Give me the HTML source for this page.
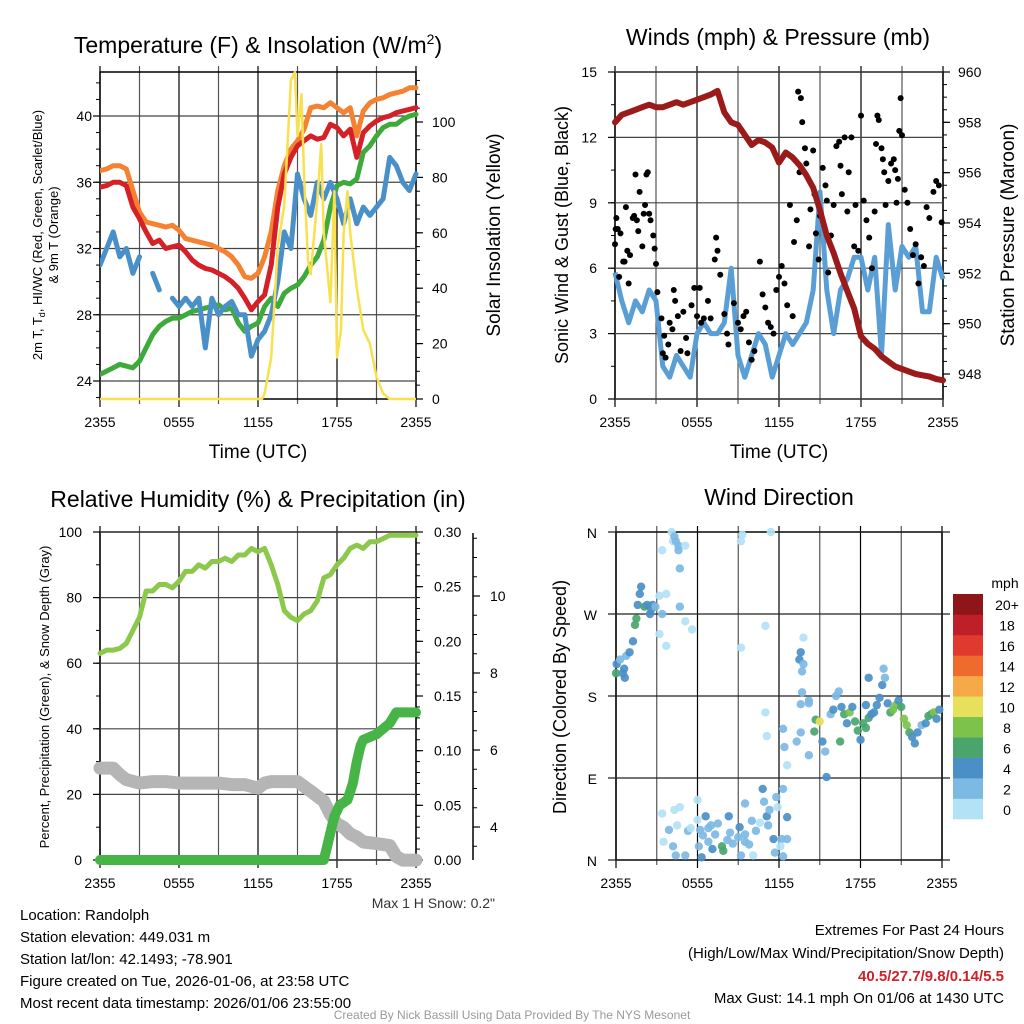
<!DOCTYPE html>
<html><head><meta charset="utf-8">
<style>
html,body{margin:0;padding:0;background:#fff;}
svg{display:block;font-family:"Liberation Sans",sans-serif;}
</style></head>
<body>
<svg id="c" width="1024" height="1024" viewBox="0 0 1024 1024">
<g id="static">
<text x="258" y="53" font-size="23" text-anchor="middle">Temperature (F) &amp; Insolation (W/m<tspan dy="-9" font-size="14">2</tspan><tspan dy="9">)</tspan></text>
<text x="778" y="45" font-size="23" text-anchor="middle">Winds (mph) &amp; Pressure (mb)</text>
<text x="258" y="507" font-size="23" text-anchor="middle">Relative Humidity (%) &amp; Precipitation (in)</text>
<text x="779" y="505" font-size="23" text-anchor="middle">Wind Direction</text>
<text x="258" y="458" font-size="19" text-anchor="middle">Time (UTC)</text>
<text x="779" y="458" font-size="19" text-anchor="middle">Time (UTC)</text>
<text transform="translate(42,235) rotate(-90)" font-size="13" text-anchor="middle">2m T, T<tspan dy="3" font-size="9">d</tspan><tspan dy="-3">, HI/WC (Red, Green, Scarlet/Blue)</tspan></text>
<text transform="translate(58,235) rotate(-90)" font-size="13" text-anchor="middle">&amp; 9m T (Orange)</text>
<text transform="translate(500,235) rotate(-90)" font-size="19" text-anchor="middle">Solar Insolation (Yellow)</text>
<text transform="translate(568,235) rotate(-90)" font-size="18" text-anchor="middle">Sonic Wind &amp; Gust (Blue, Black)</text>
<text transform="translate(1014,235) rotate(-90)" font-size="19" text-anchor="middle">Station Pressure (Maroon)</text>
<text transform="translate(49,697) rotate(-90)" font-size="13" text-anchor="middle">Percent, Precipitation (Green), &amp; Snow Depth (Gray)</text>
<text transform="translate(566,697) rotate(-90)" font-size="18" text-anchor="middle">Direction (Colored By Speed)</text>
<text x="495" y="908" font-size="14" fill="#333" text-anchor="end">Max 1 H Snow: 0.2"</text>
<g font-size="15">
<text x="20" y="920">Location: Randolph</text>
<text x="20" y="942">Station elevation: 449.031 m</text>
<text x="20" y="964">Station lat/lon: 42.1493; -78.901</text>
<text x="20" y="986">Figure created on Tue, 2026-01-06, at 23:58 UTC</text>
<text x="20" y="1008">Most recent data timestamp: 2026/01/06 23:55:00</text>
</g>
<g font-size="15" text-anchor="end">
<text x="1004" y="935">Extremes For Past 24 Hours</text>
<text x="1004" y="958">(High/Low/Max Wind/Precipitation/Snow Depth)</text>
<text x="1004" y="981" font-weight="bold" fill="#d0202a">40.5/27.7/9.8/0.14/5.5</text>
<text x="1004" y="1003">Max Gust: 14.1 mph On 01/06 at 1430 UTC</text>
</g>
<text x="512" y="1019" font-size="12" fill="#999" text-anchor="middle">Created By Nick Bassill Using Data Provided By The NYS Mesonet</text>
</g>
<g id="dyn"></g>
</svg>
<script>
// ---------- data ----------
const hoursHalf = [0,0.5,1,1.5,2,2.5,3,3.5,4,4.5,5,5.5,6,6.5,7,7.5,8,8.5,9,9.5,10,10.5,11,11.5,12,12.5,13,13.5,14,14.5,15,15.5,16,16.5,17,17.5,18,18.5,19,19.5,20,20.5,21,21.5,22,22.5,23,23.5,24];
const tempRed = [35.7,35.8,36,36,35.8,34.5,33.8,33,32.3,32.5,32,32.1,32.2,31.8,31.3,31,30.8,30.7,30.5,30.3,30,29.6,29,28.3,28.8,29.2,31,34.5,36.5,37.5,38.2,38.5,38.8,38.6,38.7,39.5,39.3,38.8,39.2,37.5,39,39.4,39.7,39.9,40,40.2,40.3,40.4,40.5];
const tempOrange = [36.7,36.8,37,37,36.8,35.5,34.2,33.6,33.5,33.4,33.3,33.4,33.1,32.6,32.5,32.4,32.3,32.2,32,31.8,31.5,31,30.3,30.2,30.5,31.5,33,35.5,37,38,38.5,39.2,40.5,40.6,40.5,40.8,40.5,40.2,40.5,38.8,40.3,40.8,41,41.1,41.3,41.4,41.5,41.7,41.7];
const tempGreen = [24.4,24.6,24.8,25,24.9,24.8,25.2,26,26.8,27.3,27.6,27.8,27.8,28,28.2,28.3,28.4,28.5,28.6,28.3,28.4,27.5,27,27.3,27.5,28.5,29,28.5,29.3,29.6,29.8,30.3,31,31.5,32.5,34.5,35.8,36,35.9,36.2,37.8,38.2,38.8,39.3,39.5,39.5,39.8,40,40.1];
const tempBlue = [31,32,33,31.5,32,30.5,31.5,null,30.5,29.5,null,29,28.5,29,28.5,29,26,29,28,28.5,28.8,28,28,25.5,26.5,27,28,30,33,32,36.5,35,34,36,35,36,35,33.5,35,33.5,34.5,34,34.5,35,37.5,37,36,35.5,36.5];
const solarHours = [0,12.3,12.5,13,13.5,14,14.5,14.8,15,15.3,15.5,15.8,16,16.5,16.8,17,17.5,17.8,18,18.3,18.5,18.8,19,19.5,20,20.5,21,21.5,22,24];
const solarValues = [0,0,2,15,55,70,115,118,95,110,80,50,45,72,92,60,35,75,15,25,60,75,60,40,25,20,8,2,0,0];
const windSpeed = [5.8,4.5,3.5,4.5,4,5,4.5,1.5,1,2,1.5,1,3,3.5,3,3,3.5,6,2,1,2,3,2.5,1,2,3,2.5,3,3.5,5,9.5,5,3,5,5.5,6.5,6.5,5,6.5,2,8,5,7,6.5,7,4,4,6.5,5.5];
const pressure = [958.0,958.3,958.4,958.5,958.6,958.7,958.6,958.6,958.7,958.8,958.7,958.8,958.9,959.0,959.1,959.25,958.4,958.0,957.9,957.5,957.1,957.3,957.2,957.0,956.4,956.8,956.6,956.3,955.9,955.4,954.5,953.5,952.8,952.0,951.3,950.6,949.5,949.2,949.0,948.7,948.5,948.3,948.2,948.1,948.0,947.95,947.9,947.8,947.75];
const gustHours = [0,0.05,0.1,0.2,0.3,0.4,0.6,0.7,0.8,0.9,1.0,1.1,1.3,1.4,1.5,1.6,1.7,1.8,2.0,2.1,2.2,2.3,2.4,2.5,2.6,2.8,2.9,3.0,3.1,3.4,3.5,3.6,3.7,3.9,4.0,4.2,4.3,4.4,4.6,4.8,5.0,5.2,5.3,5.6,5.8,6.0,6.2,6.3,6.5,6.8,7.0,7.3,7.4,7.5,7.7,8.0,8.2,8.3,8.7,9.0,9.2,9.4,9.6,9.8,10.0,10.2,10.6,10.8,11.0,11.2,11.4,11.6,11.8,12.0,12.2,12.4,12.6,12.8,13.0,13.1,13.3,13.4,13.6,13.7,13.5,13.9,14.0,14.2,14.3,14.5,14.6,14.7,14.9,15.0,15.2,15.4,15.5,15.6,15.8,16.0,16.2,16.4,16.5,16.6,16.8,17.0,17.1,17.3,17.5,17.6,17.8,18.0,18.2,18.4,18.6,18.8,19.0,19.1,19.2,19.3,19.5,19.6,19.7,19.8,20.0,20.2,20.4,20.5,20.6,20.7,20.8,20.9,21.0,21.2,21.4,21.6,21.8,22.0,22.2,22.4,22.6,22.8,23.0,23.3,23.5,23.7,23.9];
const gustValues = [7.1,7.8,8.3,7.8,5.6,7.6,6.3,6.3,8.8,6.8,5.3,6.6,8.3,8.4,10.3,8.2,7.7,9.5,7.0,8.5,8.9,10.3,10.4,8.5,8.2,7.5,6.9,6.2,4.9,3.7,2.1,2.9,1.9,2.5,3.5,3.2,5.0,4.5,3.8,2.2,4.0,2.8,2.1,4.3,5.1,3.8,5.1,3.5,3.7,4.5,3.7,6.4,7.4,6.8,5.7,3.9,3.0,2.5,4.4,3.5,3.2,3.8,4.0,2.6,1.8,2.2,6.3,4.8,4.2,3.5,3.3,3.0,5.0,5.6,6.1,5.3,4.3,8.9,3.8,7.2,8.2,14.1,13.8,12.7,10.4,11.5,10.8,7.0,8.7,11.4,9.4,7.6,6.4,8.4,10.6,9.8,9.1,5.8,7.5,8.9,11.6,11.8,10.7,9.4,12.0,8.6,10.4,12.0,7.0,8.9,6.8,13.0,9.1,8.2,7.4,6.0,8.6,11.7,13.0,12.8,11.5,11.0,10.4,8.9,10.0,10.8,11.0,10.5,9.0,10.1,12.3,13.8,12.1,9.6,9.0,7.8,6.6,7.1,5.3,6.5,6.1,8.8,8.3,9.5,10.0,9.8,8.1];
const rhValues = [63,64,64,64.5,66,70,74,82,82,84,84,83,85,88,88,90,89,91,91,92,91,93,93,95,94,95,90,84,76,74,73,75,76,79,86,87,90,92,95,96,95,97,97,98,99,99,99,99,99];
const precipHours = [0,17,17.2,17.5,17.8,18.2,18.8,19.2,19.5,19.8,20,21,22,22.5,23,24];
const precipValues = [0,0,0.01,0.025,0.04,0.05,0.055,0.07,0.09,0.105,0.11,0.115,0.125,0.135,0.135,0.135];
const snowHours = [0,1,1.5,2,3,4,5,6,7,8,9,10,11,12,12.5,13,14,15,16,17,17.5,18,18.5,19,19.5,20,21,22,22.5,23,24];
const snowDepth = [5.53,5.53,5.36,5.23,5.14,5.18,5.18,5.14,5.14,5.14,5.14,5.1,5.1,5.01,5.14,5.18,5.18,5.18,4.93,4.67,4.33,4.08,3.99,3.82,3.74,3.61,3.57,3.52,3.23,3.14,3.14];
const dirHours = [0,0.05,0.3,0.5,0.6,0.65,0.75,1.0,1.25,1.4,1.5,1.6,1.75,1.85,2.1,2.3,2.5,2.6,2.7,2.9,3.4,3.2,3.2,3.7,3.7,3.4,4.2,4.1,4.4,4.3,4.6,4.7,4.6,5.1,5.1,5.6,4.7,
9.3,9.2,11.4,9.2,11.0,11.0,11.1,12.6,
13.8,13.6,13.5,13.8,13.7,13.7,14.2,13.6,14.2,12.3,13.6,13.3,12.4,14.2,14.6,14.7,15.0,
3.4,3.5,3.9,4.2,4.4,4.3,4.7,5.1,5.3,5.5,6.0,6.0,6.1,6.2,6.3,6.4,6.6,6.8,6.8,7.0,7.1,7.3,7.5,7.8,7.9,8.2,8.3,8.4,8.6,9.0,9.1,9.2,9.5,9.5,9.8,10.0,10.3,10.6,10.8,10.9,11.1,11.2,11.3,11.6,11.7,11.8,11.9,12.2,12.3,12.3,12.6,12.6,10.1,12.1,9.5,4.5,
15.2,15.4,15.5,15.8,16.0,16.2,16.4,16.6,16.8,17.0,17.2,17.4,17.6,17.8,18.0,18.2,18.4,18.6,18.8,19.0,19.2,19.4,19.6,19.7,19.8,20.0,20.2,20.4,20.6,20.8,21.0,21.2,21.4,21.6,21.8,22.0,22.2,22.5,22.8,23.0,23.2,23.4,23.6,23.8,18.4,18.6,16.5];
const dirDegrees = [205,215,220,205,210,200,224,228,240,258,265,280,292,300,278,280,270,275,280,278,270,248,290,292,235,340,350,360,350,355,340,320,345,345,262,253,278,
357,350,360,233,257,162,136,104,
244,228,220,215,207,184,175,171,172,144,140,130,124,115,141,154,152,
51,20,33,15,5,55,58,5,32,35,66,44,15,33,3,27,48,35,20,38,12,28,40,15,10,22,48,30,18,25,36,5,20,28,17,43,32,41,78,64,48,38,55,23,8,69,58,23,4,78,47,23,5,15,62,38,
130,119,91,160,165,180,185,168,160,150,162,168,152,142,132,150,145,156,160,162,170,178,192,210,200,172,162,165,170,175,168,155,148,140,135,128,140,148,150,158,160,162,155,165,170,200,130];
const dirSpeeds = [6,4,2,4,4,4,2,4,4,6,6,4,4,4,6,4,4,4,4,2,2,0,0,0,0,0,0,0,2,2,2,2,2,0,0,0,2,
0,0,0,0,0,0,0,0,
0,4,4,2,2,2,2,2,2,2,2,2,2,2,6,6,10,
0,0,2,2,2,0,0,2,2,0,0,0,2,2,4,2,4,2,2,2,4,2,2,6,6,2,4,2,2,2,4,2,2,2,2,2,2,0,4,2,4,2,2,4,2,2,0,2,2,2,4,2,0,0,2,0,
4,2,4,2,4,2,2,4,6,4,8,4,6,6,4,6,6,6,4,4,4,4,4,2,2,4,6,8,8,4,6,8,8,6,4,4,4,2,4,6,6,8,4,4,4,4,6];
const speedColors = ['#b3e1f6','#7cb9e4','#4a8fc6','#4aa56d','#7cc24b','#e6e05b','#f6aa47','#ef6a2d','#df3a2d','#bf1f28','#8e1618'];
const speedLabels = ['0','2','4','6','8','10','12','14','16','18','20+'];
const timeLabels = ['2355','0555','1155','1755','2355'];
const tempTicks = [24,28,32,36,40];
const solarTicks = [0,20,40,60,80,100];
const windTicks = [0,3,6,9,12,15];
const pressTicks = [948,950,952,954,956,958,960];
const rhTicks = [0,20,40,60,80,100];
const precipTicks = [0,0.05,0.10,0.15,0.20,0.25,0.30];
const snowTicks = [4,6,8,10];
const dirLabels = ['N','E','S','W','N'];

// ---------- helpers ----------
const NS='http://www.w3.org/2000/svg';
const dyn=document.getElementById('dyn');
function mk(tag,attrs,parent){const e=document.createElementNS(NS,tag);for(const k in attrs)e.setAttribute(k,attrs[k]);(parent||dyn).appendChild(e);return e;}
function lin(d0,d1,r0,r1){return v=>r0+(v-d0)*(r1-r0)/(d1-d0);}
function pathFrom(xs,ys,fx,fy){let d='',pen=false;for(let i=0;i<xs.length;i++){if(ys[i]==null){pen=false;continue;}d+=(pen?'L':'M')+fx(xs[i]).toFixed(1)+','+fy(ys[i]).toFixed(1);pen=true;}return d;}

function panel(name,L,R,T,B){
  const g=mk('g',{});
  
  
  const fx=lin(0,24,L,R);
  for(let h=0;h<=24;h+=3){
    const x=fx(h);
    const gl=mk('line',{x1:x,x2:x,y1:T-6,y2:B+(h%6==0?8:5),stroke:h%6==0?'#000':'#555','stroke-width':1.2},g);
    
    
  }
  for(let i=0;i<timeLabels.length;i++){
    const t=mk('text',{x:fx(i*6),y:B+28,'font-size':14,'text-anchor':'middle'},g);
    t.textContent=timeLabels[i];
    
    
  }
  const fr=mk('rect',{x:L,y:T,width:R-L,height:B-T,fill:'none',stroke:'#000','stroke-width':1.5},g);
  
  
  return {g,fx};
}
function yAxis(g,ticks,fy,L,R,side,fmt,labelX,minorStep,dmin,dmax,grid){
  for(const v of ticks){
    const y=fy(v);
    if(grid){const gl=mk('line',{x1:L,x2:R,y1:y,y2:y,stroke:'#444','stroke-width':1.2},g);
      
      }
    const ax=side=='l'?L:R;
    mk('line',{x1:ax,x2:ax+(side=='l'?-7:7),y1:y,y2:y,stroke:'#000','stroke-width':1.2},g);
    const t=mk('text',{x:labelX,y:y+5,'font-size':14,'text-anchor':side=='l'?'end':'start'},g);
    t.textContent=fmt(v);
    
    
  }
  if(minorStep){const ax=side=='l'?L:R;
    for(let v=Math.ceil(dmin/minorStep)*minorStep;v<=dmax+1e-9;v+=minorStep){const y=fy(v);
      mk('line',{x1:ax,x2:ax+(side=='l'?-4:4),y1:y,y2:y,stroke:'#000','stroke-width':1},g);}}
}

// ---------- panel 1: temperature ----------
(function(){
  const L=100,R=416,T=72,B=399;
  const {g,fx}=panel('temperature',L,R,T,B);
  const fy=lin(24,40,381,116);
  const fs=lin(0,100,399,122);
  yAxis(g,tempTicks,fy,L,R,'l',v=>v,92,1,22.95,42.6,true);
  yAxis(g,solarTicks,fs,L,R,'r',v=>v,432,5,0,115,false);
  const cl=mk('g',{'clip-path':'url(#cp1)'},g);
  const cp=mk('clipPath',{id:'cp1'},g);mk('rect',{x:L,y:T-8,width:R-L+4,height:B-T+8},cp);
  const series=[['temp-orange-line',tempOrange,'#f58230'],['temp-green-line',tempGreen,'#3eaa3c'],['temp-blue-line',tempBlue,'#4a90c8'],['temp-red-line',tempRed,'#d42027']];
  for(const [n,arr,c] of series){
    const p=mk('path',{d:pathFrom(hoursHalf,arr,fx,fy),fill:'none',stroke:c,'stroke-width':5,'stroke-linejoin':'round','stroke-linecap':'round'},cl);
    
    
  }
  const p=mk('path',{d:pathFrom(solarHours,solarValues,fx,fs),fill:'none',stroke:'#f8e04e','stroke-width':2.5,'stroke-linejoin':'round'},g);
  
  
})();

// ---------- panel 2: winds ----------
(function(){
  const L=615,R=943,T=72,B=399;
  const {g,fx}=panel('winds',L,R,T,B);
  const fy=lin(0,15,399,72);
  const fp=lin(948,960,374,72);
  yAxis(g,windTicks,fy,L,R,'l',v=>v,597,1.5,0,15,true);
  yAxis(g,pressTicks,fp,L,R,'r',v=>v,958,0.5,947.1,960,false);
  const w=mk('path',{d:pathFrom(hoursHalf,windSpeed,fx,fy),fill:'none',stroke:'#5a9ed6','stroke-width':5,'stroke-linejoin':'round'},g);
  
  
  for(let i=0;i<gustHours.length;i++){
    const c=mk('circle',{cx:fx(gustHours[i]),cy:fy(gustValues[i]),r:3,fill:'#000'},g);
    
    
  }
  const p=mk('path',{d:pathFrom(hoursHalf,pressure,fx,fp),fill:'none',stroke:'#9b1a1a','stroke-width':6,'stroke-linejoin':'round','stroke-linecap':'round'},g);
  
  
})();

// ---------- panel 3: humidity ----------
(function(){
  const L=100,R=416,T=532,B=860;
  const {g,fx}=panel('humidity',L,R,T,B);
  const fy=lin(0,100,860,532);
  const fpr=lin(0,0.30,860,532);
  const fsn=lin(4,10,827,596);
  yAxis(g,rhTicks,fy,L,R,'l',v=>v,82,10,0,100,true);
  yAxis(g,precipTicks,fpr,L,R,'r',v=>v.toFixed(2),434,0.01,0,0.3,false);
  const sa=mk('line',{x1:473,x2:473,y1:533,y2:860,stroke:'#000','stroke-width':1.5},g);
  
  
  yAxis(g,snowTicks,fsn,473,473,'r',v=>v,490,0.5,3.2,11.6,false);
  const s=mk('path',{d:pathFrom(snowHours,snowDepth,fx,fsn),fill:'none',stroke:'#b5b5b5','stroke-width':13,'stroke-linejoin':'round','stroke-linecap':'round'},g);
  
  
  const r=mk('path',{d:pathFrom(hoursHalf,rhValues,fx,fy),fill:'none',stroke:'#8cc84b','stroke-width':5,'stroke-linejoin':'round','stroke-linecap':'round'},g);
  
  
  const pp=mk('path',{d:pathFrom(precipHours,precipValues,fx,fpr),fill:'none',stroke:'#46b446','stroke-width':10,'stroke-linejoin':'round','stroke-linecap':'round'},g);
  
  
})();

// ---------- panel 4: wind direction ----------
(function(){
  const L=616,R=942,T=532,B=860;
  const {g,fx}=panel('wind-direction',L,R,T,B);
  const fy=lin(0,360,860,532);
  for(let i=0;i<dirLabels.length;i++){
    const y=fy(i*90);
    const gl=mk('line',{x1:L-8,x2:R+8,y1:y,y2:y,stroke:'#222','stroke-width':1.2},g);
    
    
    const t=mk('text',{x:597,y:y+6,'font-size':14,'text-anchor':'end'},g);
    t.textContent=dirLabels[i];
    
    
  }
  for(let i=0;i<dirHours.length;i++){
    const c=mk('circle',{cx:fx(dirHours[i]),cy:fy(dirDegrees[i]),r:4.2,fill:speedColors[Math.min(10,Math.floor(dirSpeeds[i]/2))],'fill-opacity':0.92},g);
    
    
  }
  const cb=mk('g',{});
  
  
  const h=225/11;
  for(let i=0;i<speedColors.length;i++){
    const y=819-(i+1)*h;
    mk('rect',{x:953,y:y,width:30,height:h+0.3,fill:speedColors[i]},cb);
    const t=mk('text',{x:1007,y:y+h/2+6,'font-size':14,'text-anchor':'middle'},cb);
    t.textContent=speedLabels[i];
    
    
  }
  const m=mk('text',{x:1005,y:588,'font-size':14,'text-anchor':'middle'},cb);
  m.textContent='mph';
  
  
})();
</script>
</body></html>
